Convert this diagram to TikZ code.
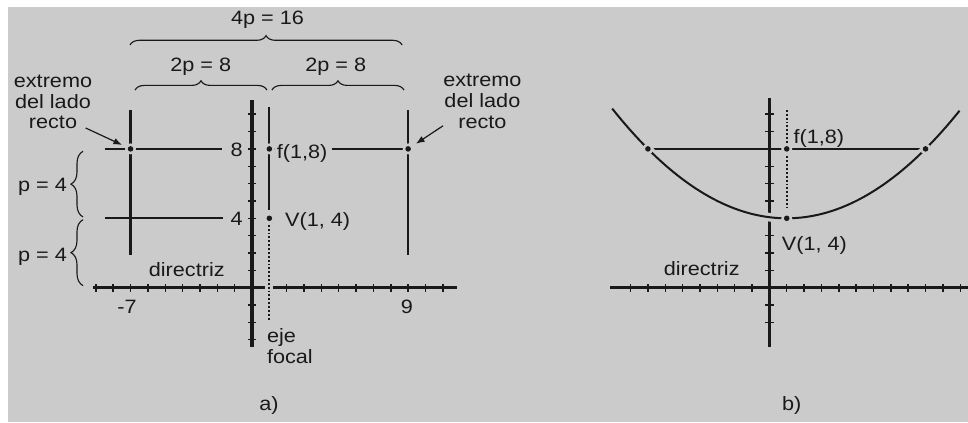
\documentclass[tikz,border=0pt]{standalone}
\usepackage{fontspec}
\setmainfont{Liberation Sans}[FakeStretch=1.12]
\usetikzlibrary{arrows.meta, decorations.pathreplacing}
\definecolor{paper}{RGB}{203,203,203}
\definecolor{ink}{RGB}{25,25,25}

\begin{document}
\begin{tikzpicture}[
  x=13.0125pt, y=13.0125pt,
  font=\fontsize{14.5}{15.5}\selectfont, text=ink,
  axis/.style    = {line width=2.3pt, ink},
  tick/.style    = {line width=1.1pt, ink},
  seg/.style     = {line width=1.4pt, ink},
  brace/.style   = {decorate, decoration={brace, amplitude=#1}, line width=0.85pt, ink},
  brace/.default = 7pt,
  arrow/.style   = {-{Latex[length=6.5pt, width=5pt]}, line width=0.9pt, ink, shorten >=7pt},
  focal/.style   = {line width=1.6pt, ink, dash pattern=on 1.4pt off 1.5pt},
  lbl/.style     = {inner sep=0pt, anchor=base},
  txt/.style     = {inner sep=0pt, align=center}
]
% background
\fill[white] (-14.524,-7.741) rectangle (41.268,16.582);
\fill[paper] (-14.063,-7.741) rectangle (41.268,16.18);
\useasboundingbox (-14.524,-7.741) rectangle (41.268,16.582);

% ---------- a) ----------
\coordinate (La) at (-7,8);
\coordinate (Fa) at (1,8);
\coordinate (Ra) at (9,8);
\coordinate (Va) at (1,4);

\draw[axis] (-9.18,0) -- (0.75,0) (1.2,0) -- (11.8,0);
\draw[axis] (0,10.81) -- (0,-3.4);
\foreach \i in {-9,...,-1,2,3,...,11} \draw[tick] (\i,-0.24) -- (\i,0.24);
\foreach \j in {-3,-2,-1,1,2,...,10} \draw[tick] (-0.24,\j) -- (0.24,\j);

\draw[line width=1.7pt, ink] (-7,10.24) -- (-7,1.88);
\draw[line width=1.1pt, ink] (9,10.24) -- (9,1.88);
\draw[seg] (1,10.41) -- (1,4.48);
\draw[focal] (1,3.62) -- (1,-1.86);
\draw[seg] (-8.47,4) -- (-1.67,4);
\draw[seg] (-8.47,8) -- (-1.73,8);

\node[lbl, anchor=base west] (fa) at (1.42,7.46) {f(1,8)};
\draw[seg] (Fa) -- ([xshift=-1.2pt]fa.west |- Fa) ([xshift=3pt]fa.east |- Fa) -- (Ra);

\foreach \c in {La,Fa,Ra,Va} {
  \fill[paper] (\c) circle (0.32);
  \fill[ink] (\c) circle (0.16);
}

\node[lbl, anchor=base east] (ya8) at (-0.52,7.55) {8};
\node[lbl, anchor=base east] (ya4) at (-0.52,3.61) {4};
\node[lbl, anchor=base west] (va) at (1.9,3.52) {V(1, 4)};
\node[lbl] (xm7) at (-7.2,-1.48) {-7};
\node[lbl] (x9) at (8.93,-1.48) {9};
\node[lbl] (dira) at (-3.76,0.63) {directriz};
\node[txt, align=left, anchor=west] (eje) at (0.85,-3.36) {eje\\focal};
\node[lbl] (capa) at (0.98,-7.05) {a)};

% braces
\draw[brace] (-7.03,13.99) -- (8.65,13.99);
\node[lbl] (b16) at (0.89,15.18) {4p = 16};
\draw[brace] (-6.74,11.39) -- (0.86,11.39);
\node[lbl] (b8l) at (-2.95,12.45) {2p = 8};
\draw[brace] (1.15,11.39) -- (8.76,11.39);
\node[lbl] (b8r) at (4.83,12.45) {2p = 8};
\draw[brace=9pt] (-9.74,4.08) -- (-9.74,7.86);
\node[lbl] (p4u) at (-12.07,5.53) {p = 4};
\draw[brace=9pt] (-9.74,0.12) -- (-9.74,3.92);
\node[lbl] (p4d) at (-12.07,1.5) {p = 4};

% extremos del lado recto
\node[txt] (extL) at (-11.47,10.70) {extremo\\del lado\\recto};
\node[txt] (extR) at (13.28,10.75) {extremo\\del lado\\recto};
\draw[arrow] ([xshift=-5pt,yshift=1pt]extL.south east) -- (La);
\draw[arrow] ([yshift=2pt]extR.south west) -- (Ra);

% ---------- b) ----------
\begin{scope}[shift={(29.82,0)}]
  \coordinate (Lb) at (-7,8);
  \coordinate (Fb) at (1,8);
  \coordinate (Rb) at (9,8);
  \coordinate (Vb) at (1,4);

  \draw[axis] (-9.18,0) -- (11.45,0);
  \draw[axis] (0,10.93) -- (0,-3.42);
  \foreach \i in {-8,...,-1,1,2,...,11} \draw[tick] (\i,-0.24) -- (\i,0.24);
  \foreach \j in {-2,-1,1,2,3,5,6,7,9,10} \draw[tick] (-0.24,\j) -- (0.24,\j);

  \draw[line width=1.5pt, ink] (Lb) -- (Rb);
  \draw[focal] (1,10.24) -- (1,4.6);
  \draw[paper, line width=6.5pt] plot[domain=-9.06:10.96, samples=80] (\x,{4+(\x-1)^2/16});
  \draw[line width=1.5pt, ink] plot[domain=-9.06:10.96, samples=80] (\x,{4+(\x-1)^2/16});

  \foreach \c in {Lb,Fb,Rb,Vb} {
    \fill[paper] (\c) circle (0.32);
    \fill[ink] (\c) circle (0.16);
  }

  \node[lbl, anchor=base west] (fb) at (1.38,8.32) {f(1,8)};
  \node[lbl, anchor=base west] (vb) at (0.71,2.17) {V(1, 4)};
  \node[lbl] (dirb) at (-3.9,0.73) {directriz};
  \node[lbl] (capb) at (1.29,-7.05) {b)};
\end{scope}
\end{tikzpicture}
\end{document}
